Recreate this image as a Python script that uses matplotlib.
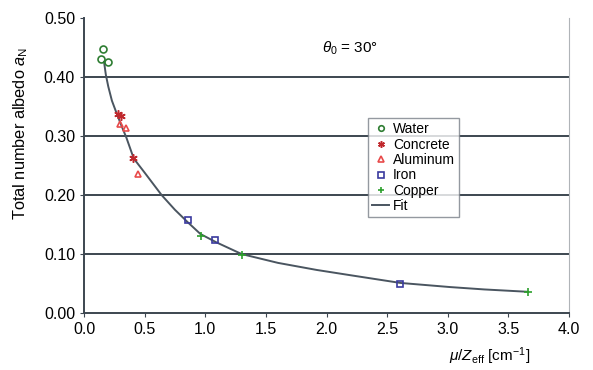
import numpy as np
import matplotlib
matplotlib.use('Agg')
from matplotlib import pyplot as plt

water_x = [0.159, 0.137, 0.200]
water_y = [0.447, 0.431, 0.425]
concrete_x = [0.278, 0.305, 0.407]
concrete_y = [0.338, 0.334, 0.262]
aluminum_x = [0.297, 0.346, 0.448]
aluminum_y = [0.321, 0.313, 0.235]
iron_x = [0.855, 1.08, 2.61]
iron_y = [0.158, 0.124, 0.049]
copper_x = [0.965, 1.30, 3.66]
copper_y = [0.130, 0.098, 0.036]

# fit curve
fit_x = [0.165, 0.18, 0.20, 0.23, 0.27, 0.31, 0.35, 0.41, 0.50, 0.64, 0.75, 0.85, 0.96, 1.09, 1.30,
         1.60, 1.92, 2.20, 2.61, 3.02, 3.30, 3.66]
fit_y = [0.426, 0.404, 0.384, 0.360, 0.338, 0.317, 0.297, 0.262, 0.238, 0.200, 0.175, 0.155, 0.134,
         0.120, 0.100, 0.085, 0.073, 0.064, 0.051, 0.044, 0.040, 0.036]

xticks = [0.0, 0.5, 1.0, 1.5, 2.0, 2.5, 3.0, 3.5, 4.0]
yticks = [0.0, 0.1, 0.2, 0.3, 0.4, 0.5]

plt.rcParams['font.family'] = ['Liberation Sans', 'DejaVu Sans']
plt.rcParams['mathtext.fontset'] = 'custom'
plt.rcParams['mathtext.rm'] = 'Liberation Sans'
plt.rcParams['mathtext.it'] = 'Liberation Sans:italic'

fig = plt.figure(figsize=(5.93, 3.70), dpi=100)
ax = fig.add_axes([0.1417, 0.154, 0.8178, 0.797])

for y in [0.1, 0.2, 0.3, 0.4]:
    ax.axhline(y, color='#3c4650', lw=1.4, zorder=1)

ax.plot(water_x, water_y, 'o', mfc='none', mec='#2e7d32', ms=5, mew=1.2, label='Water', zorder=3)
ax.plot(concrete_x, concrete_y, marker=(6, 2, 0), ls='none', color='#c0282d', ms=6, mew=1.1, label='Concrete', zorder=3)
ax.plot(aluminum_x, aluminum_y, '^', mfc='none', mec='#e84a4a', ms=5, mew=1.2, label='Aluminum', zorder=3)
ax.plot(iron_x, iron_y, 's', mfc='none', mec='#3a3a9e', ms=5, mew=1.2, label='Iron', zorder=3)
ax.plot(copper_x, copper_y, '+', color='#2ca02c', ms=6, mew=1.2, label='Copper', zorder=3)
ax.plot(fit_x, fit_y, '-', color='#4a5560', lw=1.4, label='Fit', zorder=2)

ax.set_xlim(0, 4.0)
ax.set_ylim(0, 0.5)
ax.set_xticks(xticks)
ax.set_yticks(yticks)
ax.set_xticklabels(['%.1f' % v for v in xticks])
ax.set_yticklabels(['%.2f' % v for v in yticks])
ax.tick_params(labelsize=11.5, direction='out', length=3, color='#3c4650')

ax.spines['top'].set_visible(False)
ax.spines['right'].set_color('#b0b4b8')
ax.spines['left'].set_color('#3c4650')
ax.spines['bottom'].set_color('#3c4650')
ax.spines['left'].set_linewidth(1.4)
ax.spines['bottom'].set_linewidth(1.4)

ax.set_ylabel(r'Total number albedo $a_{\rm N}$', fontsize=11.8)
ax.yaxis.set_label_coords(-0.111, 0.61)
ax.set_xlabel(r'$\mu/Z_{\rm eff}$ [cm$^{-1}$]', fontsize=11)
ax.xaxis.set_label_coords(0.837, -0.11)

ax.text(0.548, 0.898, r'$\theta_0$ = 30°', transform=ax.transAxes,
        ha='center', va='center', fontsize=11)

leg = ax.legend(loc='upper left', bbox_to_anchor=(0.586, 0.661), fontsize=10,
                frameon=True, fancybox=False, edgecolor='#7a8088',
                handlelength=1.2, handletextpad=0.3, labelspacing=0.1,
                borderpad=0.3, borderaxespad=0, markerscale=0.8)
leg.get_frame().set_linewidth(1.0)

fig.savefig('out.png', dpi=100)
